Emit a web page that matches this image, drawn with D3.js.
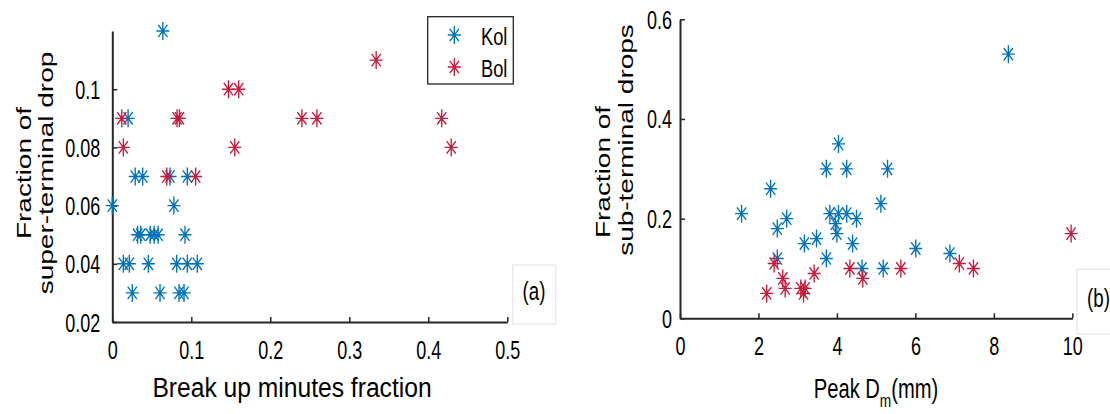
<!DOCTYPE html>
<html><head><meta charset="utf-8">
<script src="https://cdn.jsdelivr.net/npm/d3@7"></script>
<style>
body{margin:0;background:#fff}
svg{display:block}
text{font-family:"Liberation Sans",Arial,sans-serif;fill:#000}
</style>
</head><body>
<svg id="c" width="1110" height="414"></svg>
<script>
// ---------- data (panel a) ----------
const kolBreak = [0.064,0.020,0.029,0.0385,0.073,0.095,0.000,0.078,0.032,0.036,0.048,0.053,0.058,0.092,0.014,0.0215,0.0456,0.0815,0.095,0.1076,0.0253,0.0604,0.0844,0.0908];
const kolSuper = [0.12,0.09,0.07,0.07,0.07,0.07,0.06,0.06,0.05,0.05,0.05,0.05,0.05,0.05,0.04,0.04,0.04,0.04,0.04,0.04,0.03,0.03,0.03,0.03];
const bolBreak = [0.012,0.082,0.085,0.147,0.160,0.014,0.155,0.069,0.1055,0.334,0.240,0.259,0.417,0.429];
const bolSuper = [0.09,0.09,0.09,0.10,0.10,0.08,0.08,0.07,0.07,0.11,0.09,0.09,0.09,0.08];
// ---------- data (panel b) ----------
const kolPeak = [1.57,2.31,2.72,2.48,2.48,3.17,3.48,3.73,3.73,4.25,3.82,4.04,4.25,3.96,4.00,4.50,4.40,4.64,5.18,5.12,5.29,4.04,8.37,6.01,6.88];
const kolSub  = [0.21,0.26,0.20,0.18,0.12,0.15,0.16,0.12,0.30,0.30,0.21,0.21,0.21,0.19,0.17,0.20,0.15,0.10,0.10,0.23,0.30,0.35,0.53,0.14,0.13];
const bolPeak = [2.40,2.62,2.21,2.68,3.08,3.15,3.19,3.42,4.33,4.66,5.63,7.12,7.48,9.97];
const bolSub  = [0.11,0.08,0.05,0.06,0.06,0.05,0.06,0.09,0.10,0.08,0.10,0.11,0.10,0.17];
// ---------- ticks & labels ----------
const aXTicks = [0,0.1,0.2,0.3,0.4,0.5];
const aXLabels = ["0","0.1","0.2","0.3","0.4","0.5"];
const aYTicks = [0.02,0.04,0.06,0.08,0.1];
const aYLabels = ["0.02","0.04","0.06","0.08","0.1"];
const bXTicks = [0,2,4,6,8,10];
const bXLabels = ["0","2","4","6","8","10"];
const bYTicks = [0,0.2,0.4,0.6];
const bYLabels = ["0","0.2","0.4","0.6"];
const seriesNames = ["Kol","Bol"];
const colors = ["#0072BD","#C81A3C"];

const CX = 0.72;           // horizontal squeeze of the original picture
const svg = d3.select("#c");
const AX = "#262626";
const star = "M0,-9V9M-6.5,0H6.5M-4.6,-6.2L4.6,6.2M-4.6,6.2L4.6,-6.2";

function label(x, y, s, size, anchor, rot, cx){
  const t = svg.append("text")
    .attr("transform", `translate(${x},${y}) scale(${cx||CX},1)` + (rot ? " rotate(-90)" : ""))
    .attr("font-size", size).attr("text-anchor", anchor || "middle");
  t.text(s);
  return t;
}

function panel(o){
  const x = d3.scaleLinear().domain(o.xd).range(o.xr);
  const y = d3.scaleLinear().domain(o.yd).range(o.yr);
  const gx = svg.append("g").attr("transform", `translate(0,${o.yr[0]})`)
    .call(d3.axisBottom(x).tickValues(o.xt).tickFormat((d,i)=>o.xl[i]).tickSizeInner(-5).tickSizeOuter(0).tickPadding(0));
  const gy = svg.append("g").attr("transform", `translate(${o.xr[0]},0)`)
    .call(d3.axisLeft(y).tickValues(o.yt).tickFormat((d,i)=>o.yl[i]).tickSizeInner(-5).tickSizeOuter(0));
  [gx,gy].forEach(g=>{
    g.select(".domain").attr("stroke",AX).attr("stroke-width",2);
    g.selectAll(".tick line").attr("stroke",AX).attr("stroke-width",1.5);
    g.selectAll("text").attr("font-family",null).attr("font-size",25).attr("fill","#111");
  });
  gx.selectAll("text").attr("dy",null).attr("y",37).attr("transform",`scale(${CX},1)`);
  gy.selectAll("text").attr("dy","0.36em").attr("x",-o.ygap/CX).attr("transform",`scale(${CX},1)`);
  const sets = [[o.kx,o.ky],[o.bx,o.by]];
  sets.forEach((s,k)=>{
    svg.append("g").selectAll("path").data(s[0].map((v,i)=>[v,s[1][i]])).join("path")
      .attr("d",star).attr("transform",d=>`translate(${x(d[0])},${y(d[1])})`)
      .attr("fill","none").attr("stroke",colors[k]).attr("stroke-width",1.35);
  });
  return {x,y};
}

panel({xd:[0,0.5],xr:[112.3,507.3],yd:[0.02,0.12],yr:[322,31],
  xt:aXTicks,xl:aXLabels,yt:aYTicks,yl:aYLabels,ygap:12,
  kx:kolBreak,ky:kolSuper,bx:bolBreak,by:bolSuper});
panel({xd:[0,10],xr:[680,1072.3],yd:[0,0.6],yr:[318.3,19.3],
  xt:bXTicks,xl:bXLabels,yt:bYTicks,yl:bYLabels,ygap:8,
  kx:kolPeak,ky:kolSub,bx:bolPeak,by:bolSub});

// axis titles
label(292, 397, "Break up minutes fraction", 28, "middle", false, 0.88);
const pt = label(876, 398, "", 28, "middle");
pt.append("tspan").text("Peak D");
pt.append("tspan").attr("font-size",19).attr("dy",9).text("m");
pt.append("tspan").attr("dy",-9).text("(mm)");

label(31, 173, "Fraction of", 28, "middle", true);
label(53, 173, "super-terminal drop", 28, "middle", true);
label(610, 172, "Fraction of", 28, "middle", true);
label(633, 140, "sub-terminal drops", 28, "middle", true);

// legend
svg.append("rect").attr("x",427.7).attr("y",16.7).attr("width",85.6).attr("height",67.3)
  .attr("fill","#fff").attr("stroke",AX).attr("stroke-width",1.3);
seriesNames.forEach((n,i)=>{
  const yy = 35 + i*32;
  svg.append("path").attr("d",star).attr("transform",`translate(454.3,${yy})`)
    .attr("fill","none").attr("stroke",colors[i]).attr("stroke-width",1.35);
  label(481, yy+10, n, 24, "start", false, 0.76);
});

// panel tags
svg.append("rect").attr("x",512.7).attr("y",265).attr("width",43).attr("height",59)
  .attr("fill","#fff").attr("stroke","#e6e6e6").attr("stroke-width",1.2);
label(534, 300, "(a)", 26, "middle");
svg.append("rect").attr("x",1077).attr("y",269.3).attr("width",45).attr("height",64.7)
  .attr("fill","#fff").attr("stroke","#e6e6e6").attr("stroke-width",1.2);
label(1087, 306.5, "(b)", 26, "start");
</script>
</body></html>
